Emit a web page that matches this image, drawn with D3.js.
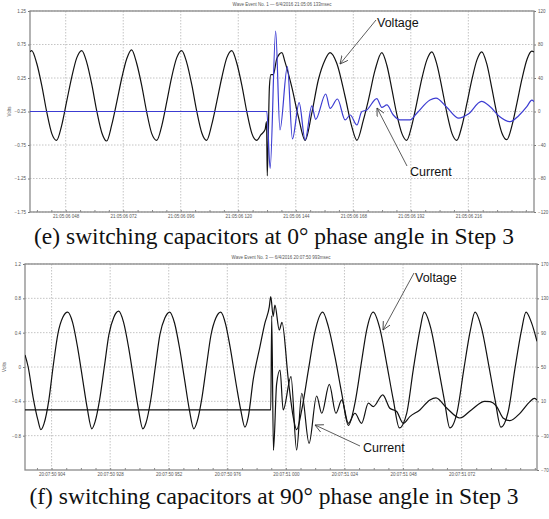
<!DOCTYPE html>
<html>
<head>
<meta charset="utf-8">
<script src="https://cdn.jsdelivr.net/npm/d3@7"></script>
<style>
  body { margin: 0; background: #fff; }
  svg { display: block; }
</style>
</head>
<body>
<div id="chart"></div>
<script>
// waveform captures
// time in ms within the second, voltage in pu (left axis), current in A (right axis)

const voltE = [
  [33.1,0.64],[33.8,0.66],[35.9,0.47],[38.0,0.14],[40.1,-0.26],[42.2,-0.58],[44.2,-0.68],[46.3,-0.46],[48.4,-0.10],[50.5,0.26],[52.6,0.55],
  [54.7,0.66],[56.8,0.48],[58.9,0.15],[61.0,-0.25],[63.1,-0.57],[65.1,-0.69],[67.2,-0.45],[69.3,-0.11],[71.4,0.25],[73.5,0.54],
  [75.5,0.67],[77.6,0.47],[79.7,0.14],[81.8,-0.26],[83.9,-0.58],[86.0,-0.68],[88.1,-0.46],[90.2,-0.10],[92.2,0.26],[94.3,0.55],
  [96.4,0.66],[98.5,0.48],[100.6,0.15],[102.7,-0.25],[104.8,-0.57],[106.8,-0.68],[108.9,-0.45],[111.0,-0.11],[113.1,0.25],[115.2,0.55],
  [117.3,0.66],[119.4,0.47],[121.5,0.14],[123.6,-0.26],[125.7,-0.58],[127.7,-0.68],[129.4,-0.60],[131.2,-0.52],[131.8,-0.40],
  [132.1,-1.21],[133.0,0.12],[133.6,0.30],[134.6,0.30],[136.1,0.54],
  [138.2,0.63],[139.5,0.49],[142.3,0.12],[145.1,-0.33],[147.9,-0.68],[150.7,-0.27],[153.4,0.22],[156.2,0.52],
  [158.3,0.63],[161.1,0.47],[164.6,-0.03],[167.4,-0.48],[169.5,-0.68],[172.2,-0.38],[174.3,-0.08],[177.1,0.37],
  [179.9,0.63],[182.0,0.44],[184.1,0.08],[186.2,-0.30],[188.3,-0.58],[190.3,-0.68],[192.4,-0.46],[194.5,-0.12],[196.6,0.24],[198.7,0.52],
  [200.8,0.64],[202.9,0.45],[205.0,0.10],[207.1,-0.28],[209.2,-0.58],[211.2,-0.68],[213.3,-0.47],[215.4,-0.13],[217.5,0.23],[219.6,0.52],
  [221.6,0.64],[223.7,0.46],[225.8,0.10],[227.9,-0.28],[230.0,-0.57],[232.1,-0.67],[234.2,-0.46],[236.3,-0.12],[238.4,0.24],[240.5,0.53],
  [242.5,0.65],[243.4,0.64]
];

const currE = [
  [33.1,0],[131.9,0],[133.3,-67.8],[135.6,96],[137.4,-22],[140.5,53.5],[142.6,-32.8],[145.4,10.5],[147.9,-34],
  [150.7,6.6],[152.3,-9.3],[156.5,20.9],[158.3,3.8],[161.4,14.9],[164.6,-10.1],[166.7,-4.2],[169.5,-16.1],
  [171.5,-0.2],[173.6,1.8],[177.8,15.3],[179.9,5.0],[182.0,7.8],[184.7,-4.2],[187.5,-10.1],[191.7,-10.1],
  [194.5,-2.1],[200.0,13.7],[202.5,16],[207.0,5],[212.0,-8],[216.0,-3],[221.5,12],[225.1,5.7],[229.0,-6],
  [233.4,-12.2],[237.0,-5],[240.4,5.7],[242.5,13.7],[243.4,11.7]
];

const voltF = [
  [893.1,0.14],[894.4,0.0],[896.4,-0.35],[898.4,-0.62],[899.6,-0.73],[900.9,-0.66],[902.9,-0.38],[904.6,0.0],[906.6,0.39],[908.6,0.58],
  [910.6,0.64],[912.6,0.52],[914.7,0.22],[916.6,-0.12],[918.6,-0.48],[920.5,-0.72],[921.8,-0.64],[923.8,-0.36],[925.6,0.0],[927.5,0.38],[929.5,0.58],
  [931.5,0.65],[933.5,0.52],[935.6,0.22],[937.5,-0.12],[939.5,-0.48],[941.4,-0.72],[942.7,-0.65],[944.7,-0.37],[946.5,0.0],[948.4,0.38],[950.4,0.57],
  [952.4,0.64],[954.4,0.51],[956.5,0.21],[958.4,-0.13],[960.4,-0.49],[962.3,-0.72],[963.6,-0.64],[965.6,-0.36],[967.4,0.0],[969.3,0.37],[971.3,0.57],
  [973.3,0.64],[975.3,0.50],[977.1,0.24],[979.8,-0.23],[981.5,-0.50],[983.2,-0.70],[984.6,-0.58],[986.6,-0.15],[989.4,0.24],[991.4,0.51],
  [993.2,0.70],[993.8,0.82],[994.8,0.59],[995.5,0.72],[997.3,0.43],[998.4,0.52],[1001.0,-0.15],[1003.0,-0.58],[1004.4,-0.73],
  [1006.5,-0.50],[1009.2,-0.04],[1011.9,0.41],
  [1015.1,0.64],[1017.4,0.47],[1020.1,0.12],[1022.9,-0.31],[1025.6,-0.68],[1028.3,-0.42],[1031.1,0.08],[1033.1,0.43],
  [1035.8,0.64],[1038.5,0.45],[1041.3,0.04],[1044.0,-0.38],[1046.5,-0.71],[1049.5,-0.54],[1052.2,-0.03],[1054.9,0.43],
  [1056.7,0.64],[1059.4,0.45],[1062.2,0.04],[1064.9,-0.38],[1067.2,-0.71],[1070.2,-0.52],[1072.9,-0.03],[1075.6,0.43],
  [1077.5,0.64],[1080.2,0.45],[1083.0,0.04],[1085.7,-0.38],[1088.1,-0.70],[1091.1,-0.52],[1093.8,-0.03],[1096.5,0.42],
  [1098.4,0.64],[1100.6,0.52],[1102.9,0.30]
];

const currF = [
  [893.1,0],[993.8,0],[994.2,110],[994.9,-47],[996.2,30],[997.6,46.5],[998.9,0],[1002.1,38.7],[1004.4,-46.7],
  [1006.5,19.4],[1009.5,-38.9],[1012.6,16.2],[1014.7,-3.9],[1017.8,29.8],[1020.5,-3.9],[1022.9,11.6],[1025.6,-15.6],
  [1028.3,-3.9],[1031.0,-15.6],[1033.8,7.8],[1035.8,3.9],[1039.7,17.5],[1042.6,1.9],[1045.4,-1.9],[1048.1,-15.6],
  [1050.8,-7.8],[1054.9,0],[1059.0,11.6],[1061.5,14],[1066.0,2],[1071.3,-9.4],[1076.0,0],[1081.5,10],[1083.6,9.7],
  [1086.4,3.9],[1089.1,-9.7],[1091.8,-12.5],[1095.9,-4],[1100.0,9.7],[1101.8,13.5],[1102.9,11.6]
];

// axis ticks and labels
const leftTicksE = [1.25, 0.75, 0.25, -0.25, -0.75, -1.25, -1.75];
const rightTicksE = [120, 80, 40, 0, -40, -80, -120];
const timeTicksE = [48, 72, 96, 120, 144, 168, 192, 216];
const timeLabelsE = ["21:05:06 048","21:05:06 072","21:05:06 096","21:05:06 120","21:05:06 144","21:05:06 168","21:05:06 192","21:05:06 216"];

const leftTicksF = [1.2, 0.8, 0.4, 0, -0.4, -0.8];
const rightTicksF = [170, 130, 90, 50, 10, -30, -70];
const timeTicksF = [904, 928, 952, 976, 1000, 1024, 1048, 1072];
const timeLabelsF = ["20:07:50 904","20:07:50 928","20:07:50 952","20:07:50 976","20:07:51 000","20:07:51 024","20:07:51 048","20:07:51 072"];

const width = 549, height = 519;

const svg = d3.select("#chart").append("svg")
    .attr("width", width)
    .attr("height", height);

const defs = svg.append("defs");
defs.append("marker")
    .attr("id", "arrow")
    .attr("markerUnits", "userSpaceOnUse")
    .attr("markerWidth", 10).attr("markerHeight", 10)
    .attr("refX", 8).attr("refY", 4)
    .attr("orient", "auto")
  .append("path")
    .attr("d", "M0,0 L8,4 L0,8")
    .attr("fill", "none")
    .attr("stroke", "#333")
    .attr("stroke-width", 0.8);

function drawPanel(p) {
    const g = svg.append("g");

    const x = d3.scaleLinear().domain(p.xDomain).range([p.left, p.right]);
    const yL = d3.scaleLinear().domain(p.leftDomain).range([p.bottom, p.top]);
    const yR = d3.scaleLinear().domain(p.rightDomain).range([p.bottom, p.top]);

    // dotted grid
    g.append("g").selectAll("line")
        .data(p.leftTicks)
        .join("line")
        .attr("x1", p.left).attr("x2", p.right)
        .attr("y1", d => yL(d)).attr("y2", d => yL(d))
        .attr("stroke", "#c4c4c4")
        .attr("stroke-dasharray", "1.5,1.5");

    g.append("g").selectAll("line")
        .data(p.timeTicks)
        .join("line")
        .attr("x1", d => x(d)).attr("x2", d => x(d))
        .attr("y1", p.top).attr("y2", p.bottom)
        .attr("stroke", "#c4c4c4")
        .attr("stroke-dasharray", "1.5,1.5");

    // axes
    const tickFont = g => g.selectAll("text")
        .attr("font-size", 4.5)
        .attr("font-family", "Liberation Sans, Arial, sans-serif")
        .attr("fill", "#555");

    g.append("g")
        .attr("transform", `translate(${p.left},0)`)
        .call(d3.axisLeft(yL).tickValues(p.leftTicks).tickSize(2).tickPadding(2).tickFormat(p.leftFormat))
        .call(g => g.select(".domain").remove())
        .call(g => g.selectAll("line").attr("stroke", "#777"))
        .call(tickFont);

    g.append("g")
        .attr("transform", `translate(${p.right},0)`)
        .call(d3.axisRight(yR).tickValues(p.rightTicks).tickSize(2).tickPadding(2).tickFormat(d3.format("d")))
        .call(g => g.select(".domain").remove())
        .call(g => g.selectAll("line").attr("stroke", "#777"))
        .call(tickFont);

    const minor = d3.range(p.timeTicks[0] - 12, p.xDomain[1], 6).filter(d => d > p.xDomain[0]);
    g.append("g")
        .attr("transform", `translate(0,${p.bottom})`)
        .call(d3.axisBottom(x).tickValues(minor).tickSize(-2).tickFormat(""))
        .call(g => g.select(".domain").remove())
        .call(g => g.selectAll("line").attr("stroke", "#888"));

    g.append("g")
        .attr("transform", `translate(0,${p.bottom})`)
        .call(d3.axisBottom(x).tickValues(p.timeTicks).tickSize(0).tickPadding(3)
            .tickFormat((d, i) => p.timeLabels[i]))
        .call(g => g.select(".domain").remove())
        .call(tickFont);

    // frame
    g.append("rect")
        .attr("x", p.left).attr("y", p.top)
        .attr("width", p.right - p.left).attr("height", p.bottom - p.top)
        .attr("fill", "none")
        .attr("stroke", "#8a8a8a")
        .attr("stroke-width", 1.3);

    // titles
    g.append("text")
        .attr("x", (p.left + p.right) / 2).attr("y", p.top - 5)
        .attr("text-anchor", "middle")
        .attr("font-size", 4.5)
        .attr("font-family", "Liberation Sans, Arial, sans-serif")
        .attr("fill", "#555")
        .text(p.title);

    g.append("text")
        .attr("transform", `translate(${p.left - 19},${(p.top + p.bottom) / 2}) rotate(-90)`)
        .attr("text-anchor", "middle")
        .attr("font-size", 4.5)
        .attr("font-family", "Liberation Sans, Arial, sans-serif")
        .attr("fill", "#555")
        .text("Volts");

    // waveforms
    const clipId = "clip" + p.id;
    defs.append("clipPath").attr("id", clipId)
      .append("rect")
        .attr("x", p.left).attr("y", p.top)
        .attr("width", p.right - p.left).attr("height", p.bottom - p.top);

    const plot = g.append("g").attr("clip-path", `url(#${clipId})`);

    plot.append("path")
        .datum(p.voltage)
        .attr("fill", "none")
        .attr("stroke", "#111")
        .attr("stroke-width", 1.2)
        .attr("d", d3.line().x(d => x(d[0])).y(d => yL(d[1])).curve(d3.curveMonotoneX));

    plot.append("path")
        .datum(p.current)
        .attr("fill", "none")
        .attr("stroke", p.currentColor)
        .attr("stroke-width", 1.2)
        .attr("d", d3.line().x(d => x(d[0])).y(d => yR(d[1])).curve(d3.curveMonotoneX));

    // annotations
    p.notes.forEach(n => {
        g.append("line")
            .attr("x1", n.from[0]).attr("y1", n.from[1])
            .attr("x2", n.to[0]).attr("y2", n.to[1])
            .attr("stroke", "#333")
            .attr("stroke-width", 0.8)
            .attr("marker-end", "url(#arrow)");
        g.append("text")
            .attr("x", n.text[0]).attr("y", n.text[1])
            .attr("font-size", 12.5)
            .attr("font-family", "Liberation Sans, Arial, sans-serif")
            .attr("fill", "#111")
            .text(n.label);
    });

    // caption
    g.append("text")
        .attr("x", 274).attr("y", p.captionY)
        .attr("text-anchor", "middle")
        .attr("font-size", 23.5)
        .attr("font-family", "Liberation Serif, Times New Roman, serif")
        .attr("fill", "#111")
        .text(p.caption);
}

drawPanel({
    id: "e",
    left: 30, right: 534, top: 11, bottom: 212,
    xDomain: [33.1, 243.4],
    leftDomain: [-1.75, 1.25],
    rightDomain: [-120, 120],
    leftTicks: leftTicksE,
    rightTicks: rightTicksE,
    leftFormat: d3.format(".2f"),
    timeTicks: timeTicksE,
    timeLabels: timeLabelsE,
    voltage: voltE,
    current: currE,
    currentColor: "#3c3cd2",
    title: "Wave Event No. 1 \u2014 6/4/2016 21:05:06 133msec",
    caption: "(e) switching capacitors at 0\u00b0 phase angle in Step 3",
    captionY: 244,
    notes: [
        { label: "Voltage", text: [377, 27], from: [376, 20], to: [340, 64] },
        { label: "Current", text: [410, 176], from: [407, 166], to: [377, 108] }
    ]
});

drawPanel({
    id: "f",
    left: 25, right: 537, top: 264, bottom: 470,
    xDomain: [893.1, 1102.9],
    leftDomain: [-1.2, 1.2],
    rightDomain: [-70, 170],
    leftTicks: leftTicksF,
    rightTicks: rightTicksF,
    leftFormat: d3.format("~g"),
    timeTicks: timeTicksF,
    timeLabels: timeLabelsF,
    voltage: voltF,
    current: currF,
    currentColor: "#111",
    title: "Wave Event No. 3 \u2014 6/4/2016 20:07:50 993msec",
    caption: "(f) switching capacitors at 90\u00b0 phase angle in Step 3",
    captionY: 504,
    notes: [
        { label: "Voltage", text: [415, 282], from: [414, 273], to: [383, 330] },
        { label: "Current", text: [363, 452], from: [360, 446], to: [315, 425] }
    ]
});
</script>
</body>
</html>
